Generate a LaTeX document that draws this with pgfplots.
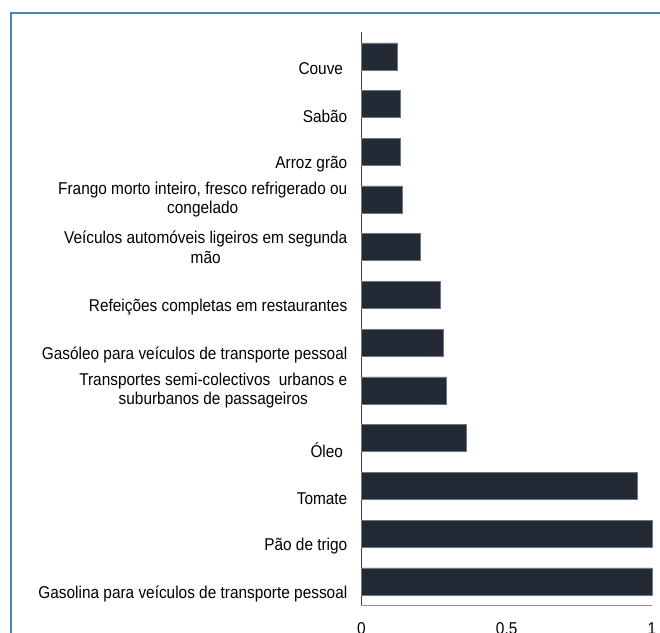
\documentclass[border=0pt]{standalone}
\usepackage{fontspec}
\setmainfont{Liberation Sans}
\newfontfamily\lab[FakeStretch=0.9]{Liberation Sans}
\usepackage{pgfplots}
\pgfplotsset{compat=1.18}
\definecolor{barc}{RGB}{35,42,54}
\definecolor{baredge}{RGB}{110,118,130}
\definecolor{framec}{RGB}{79,129,189}
\newcommand\lo[1]{\raisebox{-12.5bp}[\height][\depth]{#1}}
\begin{document}
\begin{tikzpicture}
\begin{axis}[
 at={(0,0)}, anchor=south west,
 scale only axis, width=290.4bp, height=572.8bp,
 xmin=0, xmax=1, ymin=-0.5, ymax=11.5,
 xbar, bar width=27bp,
 axis x line=bottom, axis y line=left,
 x axis line style={-, draw=gray!85, line width=1.2bp},
 y axis line style={-, draw=black!75, line width=1.2bp},
 xtick={0,0.5,1}, xticklabels={0,0.5,1},
 ytick={0,...,11},
 yticklabels={
  {\lo{Gasolina para veículos de transporte pessoal}},
  {\lo{Pão de trigo}},
  {\lo{Tomate}},
  {\lo{Óleo~}},
  {Transportes semi-colectivos\ \ urbanos e\\suburbanos de passageiros},
  {\lo{Gasóleo para veículos de transporte pessoal}},
  {\lo{Refeições completas em restaurantes}},
  {Veículos automóveis ligeiros em segunda\\mão},
  {Frango morto inteiro, fresco refrigerado ou\\congelado},
  {\lo{Arroz grão}},
  {\lo{Sabão}},
  {\lo{Couve~}}},
 major tick length=0pt,
 tick style={draw=none},
 ticklabel style={font=\lab\fontsize{17.1bp}{19.5bp}\selectfont},
 yticklabel style={align=center, anchor=east, inner sep=0pt, xshift=-14bp},
 xticklabel style={anchor=north, inner sep=0pt, yshift=-17bp},
 /pgf/number format/assume math mode=true,
 clip=false,
]
\addplot[fill=barc, draw=baredge, line width=0.5bp] coordinates {
 (1.000,0) (1.000,1) (0.948,2) (0.359,3) (0.292,4) (0.282,5)
 (0.272,6) (0.204,7) (0.142,8) (0.134,9) (0.133,10) (0.122,11)};
\end{axis}
\draw[framec, line width=1.5bp] (-350.5bp,-60bp) -- (-350.5bp,592.2bp) -- (320bp,592.2bp);
\pgfresetboundingbox
\path[use as bounding box] (-361.5bp,-27.8bp) rectangle (298.5bp,605.2bp);
\end{tikzpicture}
\end{document}
